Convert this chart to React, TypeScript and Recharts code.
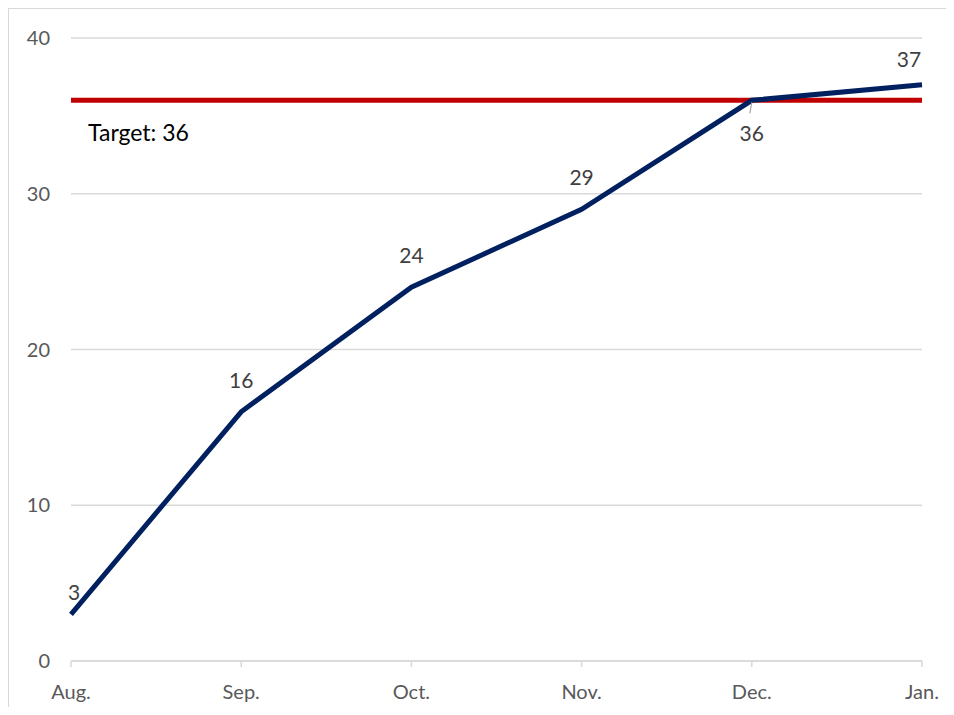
import { CartesianGrid, LabelList, Line, LineChart, ReferenceLine, XAxis, YAxis } from 'recharts'

const months = ['Aug.', 'Sep.', 'Oct.', 'Nov.', 'Dec.', 'Jan.']
const counts = [3, 16, 24, 29, 36, 37]
const yTicks = [0, 10, 20, 30, 40]
const target = 36

const data = months.map((month, i) => ({ month, count: counts[i] }))

const FONT = 'Lato, "Open Sans", sans-serif'

function PointLabel(props: any) {
  const { x, y, value, index } = props
  const last = index === counts.length - 1
  if (index === 4) {
    // Dec label sits below the target line with a small leader
    return (
      <g>
        <line x1={x} y1={y + 2} x2={x - 2} y2={y + 13} stroke="#a6a6a6" strokeWidth={1.2} />
        <text x={x} y={y + 41} textAnchor="middle" fill="#404040" fontSize={21} fontFamily={FONT}>
          {value}
        </text>
      </g>
    )
  }
  let dx = 0
  let dy = -24
  if (index === 0) {
    dx = 3
    dy = -14
  }
  if (last) {
    dx = -13
    dy = -18
  }
  return (
    <text x={x + dx} y={y + dy} textAnchor="middle" fill="#404040" fontSize={21} fontFamily={FONT}>
      {value}
    </text>
  )
}

function TargetLabel(props: any) {
  const { viewBox } = props
  return (
    <text x={viewBox.x + 17} y={viewBox.y + 41} fill="#000" fontSize={23} fontFamily={FONT}>
      {`Target: ${target}`}
    </text>
  )
}

export default function App() {
  return (
    <div
      style={{
        width: 945,
        height: 698,
        borderLeft: '1px solid #d9d9d9',
        borderTop: '1px solid #d9d9d9',
        overflow: 'hidden',
      }}
    >
      <LineChart width={937} height={698} data={data} margin={{ top: 29, right: 24, left: 0, bottom: 16 }}>
        <CartesianGrid vertical={false} stroke="#d9d9d9" strokeWidth={1.5} />
        <XAxis
          dataKey="month"
          stroke="#d9d9d9"
          strokeWidth={1.5}
          tickSize={6}
          tickMargin={18}
          height={30}
          tick={{ fill: '#595959', fontSize: 20, fontFamily: FONT }}
        />
        <YAxis
          domain={[0, 40]}
          ticks={yTicks}
          width={62}
          axisLine={false}
          tickLine={false}
          tickSize={0}
          tickMargin={21}
          tick={{ fill: '#595959', fontSize: 20, fontFamily: FONT }}
        />
        <ReferenceLine y={target} stroke="#c00000" strokeWidth={5} label={<TargetLabel />} />
        <Line
          type="linear"
          dataKey="count"
          stroke="#002060"
          strokeWidth={5}
          dot={false}
          activeDot={false}
          isAnimationActive={false}
        >
          <LabelList dataKey="count" content={<PointLabel />} />
        </Line>
      </LineChart>
    </div>
  )
}
